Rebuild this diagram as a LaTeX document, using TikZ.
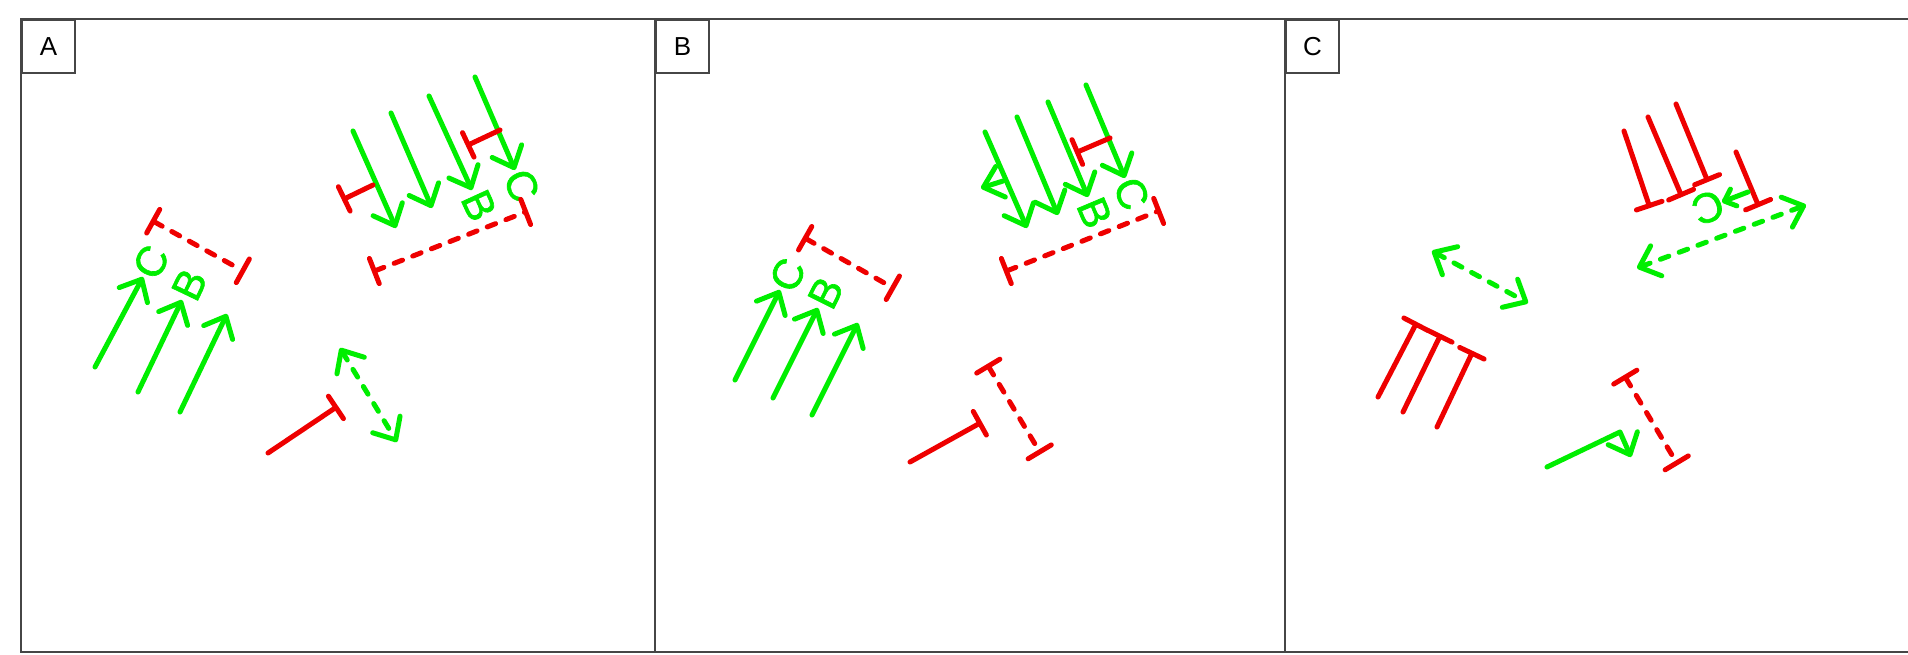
\documentclass[tikz,border=0pt]{standalone}
\usepackage{fontspec}
\setmainfont{Liberation Sans}
\newfontfamily\glabfont[FakeBold=1.5]{Liberation Sans}
\usetikzlibrary{arrows.meta,calc}
\definecolor{G}{RGB}{0,238,0}
\definecolor{R}{RGB}{238,0,0}
\definecolor{F}{RGB}{70,70,70}
\newcommand\GA[3]{\coordinate (#1s) at (#2); \coordinate (#1t) at (#3); \draw[garrow] (#1s) -- (#1t);}
\newcommand\GL[2]{\path (#1s) -- ($(#1t)!-8.5pt!(#1s)$) node[glab,pos=1,sloped,allow upside down] (#1l) {#2};}
\newcommand\RT[3]{\coordinate (#1s) at (#2); \coordinate (#1t) at (#3); \draw[rtee] (#1s) -- (#1t);}
\newcommand\RD[3]{\coordinate (#1s) at (#2); \coordinate (#1t) at (#3); \draw[rdtee] (#1s) -- (#1t);}
\newcommand\GD[3]{\coordinate (#1s) at (#2); \coordinate (#1t) at (#3); \draw[gdarrow] (#1s) -- (#1t);}
\begin{document}
\begin{tikzpicture}[x=0.5pt,y=-0.5pt,
  gline/.style={draw=G, line width=2.5pt, line cap=round, line join=round},
  rline/.style={draw=R, line width=2.5pt, line cap=round, line join=round},
  dashpat/.style={dash pattern=on 4.5pt off 5.5pt},
  garrow/.style={gline, -{Straight Barb[length=9pt,width=16pt,round]}},
  gsmall/.style={gline, -{Straight Barb[length=5pt,width=9pt,round]}},
  gdarrow/.style={gline, dashpat, {Straight Barb[length=9pt,width=16pt,round]}-{Straight Barb[length=9pt,width=16pt,round]}},
  rtee/.style={rline, -{Bar[width=13.5pt,round]}},
  rdtee/.style={rline, dashpat, {Bar[width=13.5pt,round]}-{Bar[width=13.5pt,round]}},
  glab/.style={text=G, font=\glabfont\fontsize{21pt}{21pt}\selectfont, inner sep=0pt},
  frame/.style={draw=F, line width=1pt},
  labbox/.style={draw=F, line width=1pt, minimum width=26.5pt, minimum height=26.5pt, inner sep=0pt, anchor=north west, font=\fontsize{13pt}{13pt}\selectfont}
]
\clip (0,0) rectangle (1908,654);
\fill[white] (0,0) rectangle (1908,654);
% panels
\draw[frame] (21,19) rectangle (655,652);
\draw[frame] (655,19) rectangle (1285,652);
\draw[frame] (1285,19) rectangle (1940,652);
\node[labbox] (labA) at (21,19) {A};
\node[labbox] (labB) at (655,19) {B};
\node[labbox] (labC) at (1285,19) {C};
% ---------------- Panel A
\GA{a1}{95,367}{143,277} \GL{a1}{C}
\GA{a2}{138,392}{182,300} \GL{a2}{B}
\GA{a3}{180,412}{227,314}
\RD{ad1}{151,220}{245,272}
\GA{a4}{353,131}{396,228}
\GA{a5}{391,113}{432,208}
\GA{a6}{429,96}{472,190} \GL{a6}{B}
\GA{a7}{475,77}{515,170} \GL{a7}{C}
\RT{at1}{373,185}{342,200}
\RT{at2}{500,130}{466,146}
\RD{ad2}{372,272}{528,211}
\RT{at3}{268,453}{338,406}
\GD{ag1}{340,348}{397,442}
% ---------------- Panel B
\GA{b1}{735,380}{780,290} \GL{b1}{C}
\GA{b2}{773,398}{818,308} \GL{b2}{B}
\GA{b3}{812,415}{858,323}
\RD{bd1}{803,237}{895,289}
\GA{b4}{985,132}{1027,228}
\GA{b5}{1017,117}{1058,215}
\GA{b6}{1048,102}{1088,197} \GL{b6}{B}
\GA{b7}{1086,85}{1125,178} \GL{b7}{C}
\GA{b8}{1003,181}{981,188}
\RT{bt1}{1110,138}{1075,153}
\RD{bd2}{1004,272}{1161,210}
\RT{bt2}{910,462}{982,422}
\RD{bd3}{987,364}{1041,454}
% ---------------- Panel C
\RT{c1}{1624,131}{1650,208}
\RT{c2}{1648,117}{1682,197}
\RT{c3}{1676,104}{1708,182}
\RT{c4}{1736,152}{1759,207}
\coordinate (cgs) at (1748,192); \coordinate (cgt) at (1722,202);
\draw[gsmall] (cgs) -- (cgt);
\path (cgs) -- ($(cgt)!-7.5pt!(cgs)$) node[glab,pos=1,sloped,allow upside down] (cgl) {C};
\GD{cd1}{1637,268}{1806,205}
\GD{cd2}{1432,251}{1528,303}
\RT{c5}{1378,397}{1417,322}
\RT{c6}{1403,412}{1441,334}
\RT{c7}{1437,427}{1473,351}
\coordinate (cbs) at (1547,467); \coordinate (cbm) at (1620,432); \coordinate (cbt) at (1631,457);
\draw[garrow] (cbs) -- (cbm) -- (cbt);
\RD{cd3}{1624,375}{1678,465}
\end{tikzpicture}
\end{document}
